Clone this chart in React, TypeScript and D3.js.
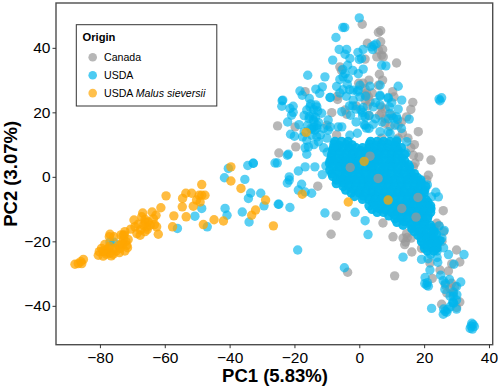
import React, { useEffect, useRef } from 'react';
import { select, scaleLinear, axisBottom, axisLeft } from 'd3';

const xTicks = [-80, -60, -40, -20, 0, 20, 40];
const yTicks = [-40, -20, 0, 20, 40];

const canadaX = [0.9, 5.9, 6.6, 2.5, 6.6, 7.2, 5.9, 6.9, 5.4, 7.4, 11.5, 1.8, -6, -5.5, 6.2, 7.2, 5.9, 1.2, 1.8, -0.2, 10.3, 10.7, 1.8, 2.8, 1.8, 3.3, 2.2, -6.7, -6.8, -16.7, 16.5, 15.9, 14.6, 6.7, 6.9, 6.2, 7.9, -4.4, -3.9, -8.5, -25.2, -19.8, 18.2, 13.3, -19.6, -24.8, 15.9, 16.7, 18.4, 22.1, 17.2, 16.7, 21.3, 20.8, -12.8, 6.9, 9.5, -3.9, -7.1, -8.7, -3.6, 10.9, 10.4, 7.3, 30, 31, 27.5, 25.9, 23.9, 24.6, 14.6, 14.3, 14.8, 16.2, 19.2, 21.8, 24.9, 28, 29, 31, 25.4, 30, 19.7, 20.5, 22.5, 26.5, 29.5,
  3, 4, 2.5, 8, 10, 12, 13, 15, 12, 17, 3, 8, -1, -7, -10, 23, 24, 22, 14, 13.5, 16, 25.5, 26, 28.5, 27, 28.5];
const canadaY = [47.3, 44.8, 45.3, 41.4, 41.9, 39.5, 39.3, 37.7, 37.2, 37.2, 35.3, 36.5, 34.1, 33, 31.8, 30, 28.4, 29, 27.4, 29, 26.4, 24.8, 25.3, 24.8, 23.8, 23.3, 26, 24, 25, 26.4, 23.1, 20.9, 18.6, 21.7, 19.7, 19.1, 16.6, 20.7, 19.4, 19.9, 15.8, 15.5, 14, 13.5, 9.3, 7.4, 9, 6.7, 6.2, 5.2, 4.2, 3.1, 0.5, -1, -2.9, 12, 15.7, -1, -12.1, -17.8, -29.6, -30.7, -18.6, -14.3, -22.7, -26.4, -29.2, -10.5, -14.4, -15.2, -17.6, -20.2, -18.8, -23.3, -22.2, -26.7, -28.9, -34.6, -36.2, -38.8, -39.5, -40.5, -12.9, -18, -31.5, -33.5, -34,
  30, 26, 22, 18, 19, 16, 17, 12, 12, 10, 19, 21, 22, 13, 16, -16, -22, -19, -21, -19, -19, -20, -17, -27, -36, -33];
// these greys sit on top of the blue mass
const canadaTopX = [-2.8, 3.3, 5.8, 18.1, 17.5, 13.1];
const canadaTopY = [2.9, 6.4, -0.5, -6.4, -12.5, -9.8];

const usdaX = [0, -5.1, -4.5, -7.2, -6.2, -3.9, -4.4, -8.2, -0.4, 1.2, 3.8, 4.5, 5.2, 4.1, 6.9, 8.2, -2.9, -3.6, 0, 0.7, 1.2, -0.3, -5.1, -4.4, -6, -3.4, -3.7, -15.9, -10.6, -11.4, -13.4, -12.2, -18.3, -17.6, -15.4, -23.6, -9, -0.6, -1.9, 0.2, 3.3, 6.4, 6.4, 8.9, 12, 24.6, 25.4, 24.9, 13.1, 15.4, 8.9, 9.3, 11.5, 14.4, 14.6, 11.5, 8.9, 6.4, 4.3, 1.8, 1.8, 1.2, -1.9, -0.3, -9, -5.4, -2.7, 0.2, 6.4, 4.3, -9.6, -11.6, -13.1, -15.2, -16.2, -14.2, -23.8, -23.9, -20.4, -21.4, -20.4, -20.9, -22.1, -18.6, -21.2, -20, -17.5, -16.2, -13.7, -13.1, -12.6, -14.7, -15.7, -16.7, -16.2, -21.9, -22.2, -32.7, -26, -25.3, -16.7, -13.7, -18.8, -21.6, -21.6, -22.2, -17.8, -18.8, -14.7, -16.7, -11.4, -10.3, -9.9, -15, -13.4, -14.1, -12.8, -13.5, -14.2, -12.6, -14, -13.1, -14.6, -15.4, -9, -9.6, -6.5, -5.4, -2.9, -0.6, 1.5, 2.2, 1, 0.5, 6.4, 9.5, 11.5, 9.5, 10.5, 11.8,
  -40.4, -41.6, -35.3, -34.4, -32.7, -33.5, -34.2, -30.4, -29.4, -25, -36.1, -41.4, -40.8, -34, -48.6, -50.7, -46.9, -56.1, -76.9, -75.7,
  -19, -4.6, -10.6, -1.3, 1.8, 2.7, -21.4, -24.8,
  13.5, 19.2, 21.8, 20.3, 20.8, 20.2, 21.3, 21, 24.2, 27.5, 29.2, 32.3, 25.1, 25.9, 27.8, 31.3, 26.4, 29, 30, 28, 27.2, 29.1, 25.9, 22.3, 26.5, 28.8, 30.1, 34.5, 34.2, 35.1, 34.9, 35.5, 34.7,
  24, 26, 25.5, 23.5, 22, 21.2, 23.2, 24.6, 26.2, 19.2, 19.7, 16.2, 15.8, 22.3, 24.4, 21, 23.6,
  22, 24, 26.5, 28, 30, 29, 30, 27, 26, 29];
const usdaY = [49.3, 46.3, 46.3, 43.2, 39.5, 39.5, 38, 36.2, 38.6, 39.5, 40.3, 40.8, 41.2, 39.5, 34.6, 34.4, 36.7, 34.6, 36.4, 36.7, 33.4, 32, 33.3, 32, 30.2, 30.5, 28.7, 31.5, 31, 27.9, 27.2, 25.9, 26.6, 25.3, 24.3, 23.8, 24.6, 26.4, 26.9, 28.4, 28.1, 28.4, 25.3, 24.6, 28.1, 24.1, 24.5, 23.6, 23.8, 17.9, 24.3, 21.7, 18.6, 7.4, 10.9, 11.4, 14, 14, 16.3, 16, 18.6, 21.5, 23.8, 26.9, 24.6, 20.2, 19.1, 24.8, 25, 21.7, 17.6, 19.7, 21.7, 21.7, 20.7, 19.1, 23.6, 21.9, 21.9, 21.2, 20, 19.1, 17, 16.2, 13.2, 12.6, 12.4, 11.4, 14.5, 12.4, 10.9, 12.9, 9.3, 9, 7, 7, 6.7, 4.2, 4.3, 4.3, 3.1, 3.1, 1.8, 0, -1, -1.9, -2.3, -4.1, -5.1, -4.7, 0.7, 3.4, 7.6, 22.6, 22.3, 20.8, 20.4, 18.4, 17.7, 16.9, 15.4, 15.1, 14.8, 18.8, 15.5, 14.5, 15.5, 15.5, 12.9, 13.5, 16.2, 15.1, 18.9, 20.7, 22.3, 13.4, 9.3, 19.6, 18.2, 17.8,
  2.6, -0.3, -0.8, 3.5, 4.2, -5, -6.7, -5.1, -9, -8.5, -10.9, -9.8, -11.9, -14, -9.8, -12.2, -15.5, -16, -20.2, -20.3,
  -22.7, -28.2, -11.2, -11, -13.6, -17.9, -9.5, -8.5,
  -24.9, -25.6, -28.9, -31.2, -33.6, -33.1, -33.9, -32.8, -26.5, -24.1, -27.1, -24.1, -30.5, -32.2, -31.8, -32.6, -34.9, -35.7, -38.2, -40.3, -41.1, -39.2, -42.6, -40.8, -41.7, -38.9, -36.6, -46.3, -47, -45.8, -47.2, -46.4, -45.4,
  -23, -22, -19, -19.8, -21.8, -25.4, -17, -15.2, -16.6, -13.8, -11.5, -7.5, -9, -6.2, -6.2, -2.5, -4.8,
  -24, -25, -33, -37, -34, -39, -41, -42, -41, -37];

// the solid blue mass in the middle of the plot, read row by row
const usdaUpperX = [-17, -15.5, -14, -16, -13, -11, -15, -17, -12, -10, -14, -11, -3, -1, 1, 3, 5, -1, 3, 7, 9, 11, 13, 12, 10, -4, -2, 2, 5, -7, -5, -3, -6, -5, -2];
const usdaUpperY = [19, 18, 17, 16, 16, 15, 15, 14, 13, 12, 10, 9, 22, 21, 20, 19, 18, 17, 15, 17, 18, 16, 15, 21, 23, 25, 22, 25, 23, 28, 27, 27, 26, 31, 33];
const usdaCoreX = [-7.8, -6.2, -4.1, -2.2, 3.1, 5.2, 6.8, 8.9, 11.1, -8.3, -6.1, -3.7, -1.6, 0.3, 2.2, 4.4, 6.1, 8.2, 10.3, 12.1, -8.6, -7.1, -4.8, -2.9, -1.2, 1.1, 3.2, 5.2, 6.9, 9.1, 11.2, 13.1, -9.2, -6.8, -5.2, -3.1, -0.9, 3.2, 4.8, 7.2, 9.2, 10.8, 13.2, 15.1,
  -9.1, -7.2, -4.8, -3.2, -1.1, 0.9, 3.1, 5.2, 7.1, 8.8, 11.2, 12.9, 15.2, -8.2, -5.8, -4.1, -1.9, 0.2, 2.1, 3.9, 6.2, 8.1, 9.8, 12.1, 14.2, 16.1, 17.9, -7.1, -4.9, -3.2, -0.8, 1.2, 2.8, 5.1, 7.2, 9.1, 10.9, 13.1, 14.9, 17.2, 19.1,
  -4.2, -1.8, 0.1, 2.2, 4.1, 5.9, 7.8, 10.2, 12.1, 13.8, 16.2, 18.1, 20.2, -1.5, 1.2, 3.4, 5.1, 7.2, 8.9, 11.1, 13.2, 14.8, 17.1, 19.2, 4.1, 5.8, 8.2, 10.1, 11.9, 14.2, 15.8, 18.2, 20.1, 21.2, 3.9, 6.2, 7.9, 10.2, 12.1, 13.9, 16.1, 18.1, 19.8, 22.1,
  9.1, 10.9, 13.2, 14.8, 17.1, 18.9, 21.2, 11.6, 13.9, 16.1, 17.8, 20.2, 16.2, 17.9, 20.1, 22.2, 18.1, 19.9, 22.2, 23.8, 19.2, 20.9, 23.1, 24.9, 20.1, 22.2, 23.9,
  -7.5, -5.5, -3.5, 3.5, 5.5, 7.5, 9.5, 11.5, -8, -7, -5, -3, -1, 1, 3, 5, 7, 9, 11, 13, -8.5, -6, -4, -2, 0, 2, 4, 6, 8, 10, 12, 14, -9, -8, -6, -4, -2, 0, 2, 4, 6, 8, 10, 12, 14, -8, -6, -4, -2, 0, 2, 4, 6, 8, 10, 12, 14, 15.5,
  -8.5, -6, -4, -2, 0, 2, 4, 6, 8, 10, 12, 14, 16, 17, -7, -5, -3, -1, 1, 3, 5, 7, 9, 11, 13, 15, 17, 19, -5, -3, -1, 1, 3, 5, 7, 9, 11, 13, 15, 17, 19, 20.5, -2.5, 0, 2, 4, 6, 8, 10, 12, 14, 16, 18, 20,
  1, 3, 5, 7, 9, 11, 13, 15, 17, 19, 20.5, 3, 5, 7, 9, 11, 13, 15, 17, 19, 21, 22, 5.5, 7.5, 10, 12, 14, 16, 18, 20, 22, 11, 13, 15, 17, 19, 21, 13.5, 16, 18, 20, 22, 17, 19, 21, 23, 19, 21, 23, 20, 22, 24, 21, 23];
const usdaCoreY = [10.2, 9.8, 10.1, 9.9, 10.2, 9.9, 10.1, 10.2, 9.8, 8.2, 7.9, 8.1, 7.8, 8.2, 7.9, 8.1, 7.8, 8.2, 7.9, 8.1, 6.1, 5.9, 6.2, 5.8, 6.1, 5.9, 6.2, 5.8, 6.1, 5.9, 6.2, 5.8, 4.1, 3.9, 4.2, 3.8, 4.1, 3.9, 4.2, 3.8, 4.1, 3.9, 4.2, 3.8,
  2.1, 1.9, 2.2, 1.8, 2.1, 1.9, 2.2, 1.8, 2.1, 1.9, 2.2, 1.8, 2.1, 0.1, -0.2, 0.2, -0.1, 0.1, -0.2, 0.2, -0.1, 0.1, -0.2, 0.2, -0.1, 0.1, -0.2, -2.1, -1.9, -2.2, -1.8, -2.1, -1.9, -2.2, -1.8, -2.1, -1.9, -2.2, -1.8, -2.1, -1.9,
  -4.1, -3.9, -4.2, -3.8, -4.1, -3.9, -4.2, -3.8, -4.1, -3.9, -4.2, -3.8, -4.1, -6.1, -5.9, -6.2, -5.8, -6.1, -5.9, -6.2, -5.8, -6.1, -5.9, -6.2, -8.1, -7.9, -8.2, -7.8, -8.1, -7.9, -8.2, -7.8, -8.1, -7.9, -10.1, -9.9, -10.2, -9.8, -10.1, -9.9, -10.2, -9.8, -10.1, -9.9,
  -12.1, -11.9, -12.2, -11.8, -12.1, -11.9, -12.2, -14.1, -13.9, -14.2, -13.8, -14.1, -16.1, -15.9, -16.2, -15.8, -18.1, -17.9, -18.2, -17.8, -20.1, -19.9, -20.2, -19.8, -22.1, -21.9, -22.2,
  11, 11, 11, 11, 11, 11, 11, 11, 9, 9, 9, 9, 9, 9, 9, 9, 9, 9, 9, 9, 7, 7, 7, 7, 7, 7, 7, 7, 7, 7, 7, 7, 5, 5, 5, 5, 5, 5, 5, 5, 5, 5, 5, 5, 5, 3, 3, 3, 3, 3, 3, 3, 3, 3, 3, 3, 3, 3,
  1, 1, 1, 1, 1, 1, 1, 1, 1, 1, 1, 1, 1, 1, -1, -1, -1, -1, -1, -1, -1, -1, -1, -1, -1, -1, -1, -1, -3, -3, -3, -3, -3, -3, -3, -3, -3, -3, -3, -3, -3, -3, -5, -5, -5, -5, -5, -5, -5, -5, -5, -5, -5, -5,
  -7, -7, -7, -7, -7, -7, -7, -7, -7, -7, -7, -9, -9, -9, -9, -9, -9, -9, -9, -9, -9, -9, -11, -11, -11, -11, -11, -11, -11, -11, -11, -13, -13, -13, -13, -13, -13, -15, -15, -15, -15, -15, -17, -17, -17, -17, -19, -19, -19, -21, -21, -21, -23, -23];

const sieversiiX = [-87.7, -86.7, -85.6, -85.1, -85.9, -80.5, -79.5, -80.2, -79, -77.9, -76.9, -75.9, -78.4, -77.4, -75.4, -74.3, -73.8, -72.3, -71.7, -71.3, -72.8, -72.3, -72.8, -73.3, -76.9, -75.7, -77.1, -70.5, -67.6, -66.1, -68.6, -65.4, -62, -62.5, -63.2, -69.5, -68.2, -69.2, -66.8, -67.1, -66.1, -65.1, -63.9, -62.7, -61.2, -59.6,
  -48.6, -53.5, -51.7, -54.5, -54.6, -57.2, -53.4, -57.6, -51.2, -50.2, -49.4, -48.6, -47.6, -49.1, -48.1, -44.8, -41.9, -39.6, -39.6, -36.5, -28.9, -32, -33.2, -26.5, -16.4, 1.5, -17.6, -3.4, 8.9,
  -79, -78, -76.5, -75, -74, -73, -72, -72.5, -71.5, -73.5, -78.5, -77, -66.5, -65.5, -64.5, -67.5, -66, -63.5];
const sieversiiY = [-27.1, -26.9, -26.9, -25.6, -26.3, -24.3, -22.2, -23.2, -24.6, -22.7, -23.6, -24, -23.3, -22.2, -22.2, -21.2, -22.2, -23, -21.2, -19.4, -19.6, -17, -18.1, -20.7, -17.8, -18.6, -18.6, -16.2, -18.1, -17, -17.6, -16.3, -17.8, -15.5, -14.8, -13.4, -14.7, -15.5, -11.2, -12.4, -13.2, -14, -10.9, -11.9, -9.6, -5.9,
  -2.4, -5.1, -5.1, -6.7, -9.3, -12.1, -12.4, -15.5, -9.1, -7.2, -5.7, -5.7, -5.7, -7.8, -14.8, -13.3, -13.7, 3.1, -1.3, -3.6, -7.2, -10.3, -11.9, -15.2, 13.8, 4.8, -5.4, -7.8, -7.2,
  -23, -24, -24.5, -23, -23.5, -21, -20, -18, -22, -18, -21, -21.5, -15, -15.5, -15, -16.5, -14, -13];

const legendItems = ['Canada', 'USDA', 'USDA Malus sieversii'];
const GREY = '#999999';
const BLUE = '#00b5ec';
const ORANGE = '#ffa500';
const legendColors = [GREY, BLUE, ORANGE];

const width = 498;
const height = 389;
const left = 56;
const top = 3;
const right = 492.7;
const bottom = 344.7;
const font = '"Liberation Sans", Arial, sans-serif';

function App() {
  const xAxisRef = useRef<SVGGElement>(null);
  const yAxisRef = useRef<SVGGElement>(null);

  const x = scaleLinear().domain([-93.55, 41.15]).range([left, right]);
  const y = scaleLinear().domain([53.9, -52.05]).range([top, bottom]);

  useEffect(() => {
    const xAxis = axisBottom(x).tickValues(xTicks).tickSize(3.5).tickPadding(3.5);
    const yAxis = axisLeft(y).tickValues(yTicks).tickSize(3.5).tickPadding(2);
    [select(xAxisRef.current).call(xAxis as any), select(yAxisRef.current).call(yAxis as any)].forEach((g: any) => {
      g.select('.domain').remove();
      g.selectAll('line').attr('stroke', '#333').attr('stroke-width', 1);
      g.selectAll('text').attr('fill', '#000').style('font-size', '15.5px').style('font-family', font);
    });
  }, []);

  const dots = (xs: number[], ys: number[], color: string, opacity: number) =>
    xs.map((v, i) => <circle key={i} cx={x(v)} cy={y(ys[i])} r={4.7} fill={color} fillOpacity={opacity} />);

  return (
    <svg width={width} height={height} style={{ position: 'absolute', left: 0, top: 0 }} fontFamily={font}>
      <rect width={width} height={height} fill="#fff" />
      <g>{dots(canadaX, canadaY, GREY, 0.7)}</g>
      <g>{dots(usdaX, usdaY, BLUE, 0.65)}</g>
      <g>{dots(usdaUpperX, usdaUpperY, BLUE, 0.65)}</g>
      <g>{dots(usdaCoreX, usdaCoreY, BLUE, 0.92)}</g>
      <g>{dots(canadaTopX, canadaTopY, GREY, 0.7)}</g>
      <g>{dots(sieversiiX, sieversiiY, ORANGE, 0.75)}</g>
      <rect x={left} y={top} width={right - left} height={bottom - top} fill="none" stroke="#4d4d4d" strokeWidth={1.4} />
      <g ref={xAxisRef} transform={`translate(0,${bottom})`} />
      <g ref={yAxisRef} transform={`translate(${left},0)`} />
      <text x={275} y={381.5} textAnchor="middle" fontWeight="bold" fontSize={18.5}>PC1 (5.83%)</text>
      <text transform={`translate(17,${(top + bottom) / 2}) rotate(-90)`} textAnchor="middle" fontWeight="bold" fontSize={18.5}>PC2 (3.07%)</text>
      <rect x={76.3} y={24.7} width={140.5} height={81.3} fill="#fff" stroke="#333" strokeWidth={1} />
      <text x={82.5} y={41} fontWeight="bold" fontSize={11.2}>Origin</text>
      {legendItems.map((item, i) => (
        <g key={item} transform={`translate(0,${57.3 + i * 17.9})`}>
          <circle cx={92.7} cy={0} r={4.3} fill={legendColors[i]} fillOpacity={0.7} />
          <text x={104} y={3.7} fontSize={10.6}>
            {i === 2 ? <>USDA <tspan fontStyle="italic">Malus sieversii</tspan></> : item}
          </text>
        </g>
      ))}
    </svg>
  );
}

export default App;
